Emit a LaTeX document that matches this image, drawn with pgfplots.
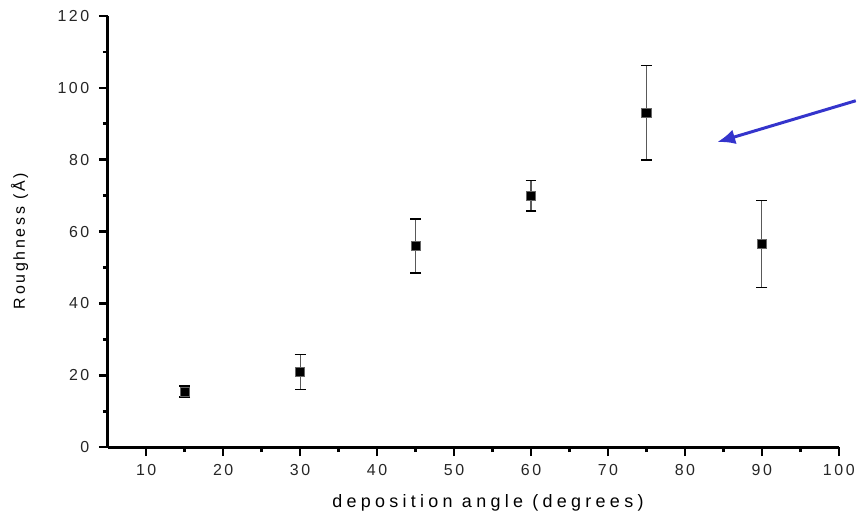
\documentclass[border=0pt]{standalone}
\usepackage{pgfplots}
\pgfplotsset{compat=1.18}
\usepackage{fontspec}
\setmainfont{Liberation Sans}
\newfontfamily\ticksfont[LetterSpace=16]{Liberation Sans}
\newfontfamily\labfont[LetterSpace=24]{Liberation Sans}
\newfontfamily\ylabfont[LetterSpace=17]{Liberation Sans}
\usetikzlibrary{arrows.meta}
\definecolor{arrowblue}{RGB}{52,52,204}

\begin{document}
\begin{tikzpicture}
\begin{axis}[
  scale only axis,
  width=734pt,
  height=433pt,
  xmin=5, xmax=100,
  ymin=0, ymax=120,
  xtick={10,20,...,100},
  ytick={0,20,...,120},
  minor x tick num=1,
  minor y tick num=1,
  axis x line=bottom,
  axis y line=left,
  axis line style={-, line width=3pt, black},
  tick align=outside,
  major tick length=9pt,
  minor tick length=5pt,
  every tick/.style={black, line width=2.5pt},
  /pgf/number format/assume math mode=true,
  tick label style={font=\fontsize{16}{16}\ticksfont, text=black!85},
  yticklabel style={xshift=-6pt},
  xticklabel style={yshift=-5pt},
  clip=false,
  xlabel={\fontsize{18}{18}\labfont deposition angle (degrees)},
  ylabel={\fontsize{16}{16}\ylabfont Roughness (Å)},
  every axis x label/.style={at={(axis description cs:0.52,0)}, anchor=base, yshift=-61pt},
  every axis y label/.style={at={(axis description cs:-0.104,0.478)}, rotate=90, anchor=south},
]
\path (axis cs:-9,-18.85) rectangle (axis cs:102.2,124.43);
\addplot+[only marks, mark=square*, mark size=4.6pt,
  mark options={fill=black, draw=black!60, line width=0.8pt},
  error bars/.cd, y dir=both, y explicit,
  error bar style={line width=1.2pt, black!65},
  error mark options={rotate=90, mark size=5.5pt, line width=1.3pt, black}]
  coordinates {
  (15,15.5) +- (0,1.5)
  (30,20.9) +- (0,4.85)
  (45,56.0) +- (0,7.5)
  (60,70.0) +- (0,4.3)
  (75,93.1) +- (0,13.2)
  (90,56.5) +- (0,12.1)
  };
\draw[arrowblue, line width=3pt, -{Latex[length=18pt, width=15pt]}]
  (axis cs:102.2,96.4) -- (axis cs:84.2,84.9);
\end{axis}
\end{tikzpicture}
\end{document}
